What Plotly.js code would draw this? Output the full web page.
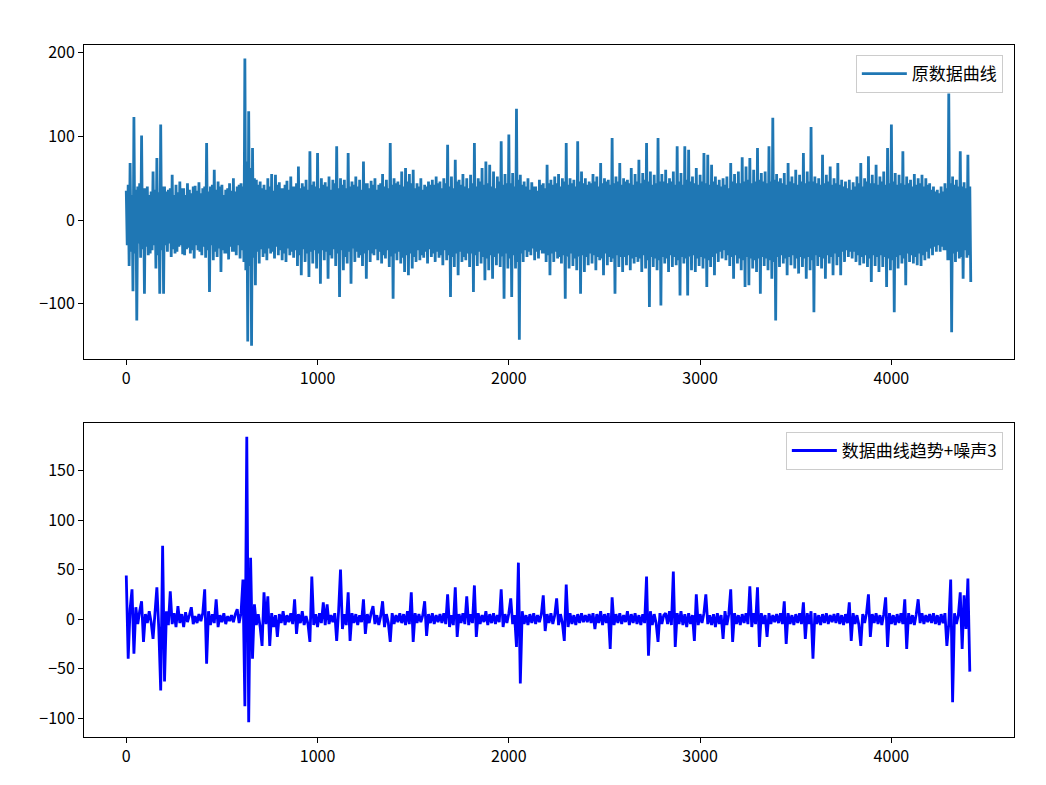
<!DOCTYPE html>
<html>
<head>
<meta charset="utf-8">
<script src="https://cdn.plot.ly/plotly-3.0.1.min.js"></script>
<style>
html,body{margin:0;padding:0;background:#fff;}
#chart{width:1046px;height:785px;}
</style>
</head>
<body>
<div id="chart"></div>
<script>
// spacing (in samples) of the read-off points of each series
const topSampleStep = 5;
const bottomSampleStep = 10;

const seriesTopName = "原数据曲线";
const seriesBottomName = "数据曲线趋势+噪声3";

const originalValues = [
35,-30,42,-55,68,-38,30,-85,123,-40,36,-120,40,-28,44,-45,101,-35,38,-88,38,-32,40,-42,30,-40,34,-36,58,-30,36,-58,74,-42,33,-88,114,-36,40,-88,
40,-30,34,-38,36,-28,38,-44,54,-35,30,-40,42,-38,33,-32,46,-30,38,-41,38,-42,30,-35,44,-33,36,-40,32,-36,40,-46,41,-30,35,-36,45,-38,32,-42,
38,-32,40,-45,92,-36,34,-86,40,-30,42,-48,60,-38,36,-44,46,-34,40,-62,42,-36,30,-40,36,-40,38,-47,44,-32,35,-38,50,-38,34,-42,40,-30,42,-46,
44,-36,40,-50,193,-60,70,-145,130,-55,62,-150,86,-45,50,-78,48,-38,42,-52,46,-35,38,-44,42,-40,36,-48,50,-34,40,-40,55,-38,35,-46,54,-32,42,-42,
45,-36,38,-48,38,-40,42,-50,47,-34,36,-42,52,-38,40,-45,40,-36,44,-55,64,-42,38,-66,44,-35,40,-50,48,-40,36,-68,82,-38,42,-52,46,-36,40,-58,
80,-40,38,-76,50,-36,42,-48,45,-38,40,-70,52,-42,36,-46,48,-35,44,-55,88,-40,38,-92,50,-36,42,-60,48,-44,38,-52,80,-38,40,-76,46,-34,42,-50,
52,-38,40,-45,48,-42,36,-55,70,-40,44,-70,44,-36,38,-50,47,-40,42,-42,50,-35,36,-48,42,-38,44,-52,55,-42,40,-46,48,-36,38,-56,92,-44,42,-94,
50,-40,44,-48,46,-38,42,-52,58,-45,40,-62,62,-42,46,-66,55,-40,44,-58,60,-44,38,-50,44,-36,40,-48,50,-42,36,-45,42,-38,40,-52,46,-35,42,-44,
48,-40,42,-50,52,-38,44,-45,46,-42,38,-54,50,-36,44,-48,90,-42,40,-92,52,-44,38,-56,72,-40,46,-66,48,-38,42,-50,55,-44,40,-48,50,-40,38,-56,
54,-40,44,-86,92,-42,40,-55,50,-38,46,-52,62,-44,42,-72,70,-46,44,-60,66,-42,40,-70,58,-44,38,-54,52,-40,46,-56,94,-44,42,-94,55,-40,44,-58,
102,-46,44,-92,56,-42,40,-58,133,-50,48,-143,54,-40,42,-50,46,-36,40,-44,50,-38,36,-42,45,-34,40,-48,40,-38,35,-46,48,-36,42,-40,44,-40,38,-50,
66,-42,44,-66,48,-40,42,-50,52,-38,44,-46,55,-44,40,-52,50,-42,46,-94,92,-44,42,-58,50,-40,44,-55,48,-46,40,-60,94,-44,46,-88,58,-42,44,-62,
50,-44,42,-54,46,-40,44,-52,55,-42,46,-60,52,-44,40,-48,68,-46,44,-66,50,-40,46,-54,48,-44,42,-50,98,-46,44,-88,52,-42,46,-56,68,-44,42,-62,
50,-44,46,-54,48,-42,44,-60,62,-46,42,-52,55,-44,46,-50,72,-46,44,-62,56,-42,48,-58,92,-48,46,-104,58,-44,42,-56,54,-46,44,-60,98,-48,46,-102,
55,-44,46,-52,60,-46,44,-62,50,-42,46,-56,58,-44,42,-54,88,-48,46,-90,56,-44,42,-52,88,-46,48,-90,84,-44,46,-60,52,-42,44,-62,62,-46,42,-55,
54,-44,46,-58,80,-46,44,-80,78,-48,42,-56,66,-44,46,-66,52,-40,42,-50,48,-38,40,-46,50,-36,42,-48,52,-42,38,-55,68,-44,46,-70,55,-42,44,-52,
58,-46,44,-60,75,-48,46,-80,64,-44,48,-78,74,-46,44,-58,60,-48,46,-62,86,-46,48,-88,56,-44,46,-55,58,-46,44,-60,88,-48,46,-70,122,-50,48,-120,
55,-44,46,-56,50,-42,44,-52,56,-46,42,-66,68,-44,46,-54,52,-42,44,-58,60,-46,42,-64,54,-44,46,-56,80,-46,44,-70,58,-44,46,-60,111,-48,46,-110,
52,-42,44,-55,50,-44,42,-58,78,-46,44,-70,54,-42,46,-52,64,-44,42,-66,50,-40,44,-54,68,-44,42,-66,48,-38,40,-50,46,-36,38,-44,48,-38,36,-46,
45,-38,40,-50,52,-42,44,-54,68,-44,40,-52,50,-42,46,-56,76,-46,44,-74,54,-42,44,-55,66,-44,42,-62,52,-42,46,-56,58,-44,42,-80,86,-46,44,-60,
114,-48,46,-110,56,-44,42,-58,54,-42,44,-52,82,-46,42,-78,52,-40,44,-50,48,-42,40,-52,55,-44,42,-54,50,-40,44,-55,54,-42,40,-48,50,-38,42,-46,
44,-34,36,-42,40,-32,34,-38,36,-30,32,-38,40,-32,34,-36,44,-36,38,-48,151,-48,44,-134,52,-40,42,-50,48,-38,40,-46,82,-44,40,-70,45,-36,38,-45,
78,-42,40,-74
];

const trendNoiseValues = [
44,-40,10,30,-35,12,-5,8,18,-23,5,-4,8,-3,-20,6,32,-10,-72,74,
-63,8,-6,28,-5,6,-8,13,-4,5,-8,7,-3,4,12,-5,3,-4,5,-2,
6,30,-45,8,-6,5,-4,20,-8,4,-3,6,-5,3,-2,4,-3,5,10,-4,
6,40,-88,184,-104,62,-40,15,-6,5,-8,-27,27,-5,23,-27,6,-8,4,-18,
5,-4,8,-6,4,-3,6,-5,20,-15,5,-4,8,-6,3,-5,-23,43,-6,5,
-8,6,-4,17,-6,15,-5,4,-3,6,-22,8,50,-10,5,-6,27,-22,6,-4,
5,-6,4,-3,20,-15,5,-4,6,13,-5,4,-6,3,18,-8,5,-4,-23,6,
-5,4,-3,6,-4,5,-6,8,-5,27,-23,6,-4,5,-3,4,18,-17,5,-4,
6,-5,4,-3,5,-4,6,-5,25,-8,4,-6,32,-18,5,-4,6,-5,23,-6,
5,-4,34,-18,6,-5,4,-3,8,-6,5,-4,6,-5,4,-3,30,-8,5,-4,
6,21,-5,4,-28,57,-65,8,-5,4,-6,5,-4,6,-5,4,-3,5,24,-12,
5,-4,6,-5,4,21,-6,5,-4,-22,35,-8,6,-5,4,-6,5,-4,6,-3,
4,-3,5,-4,6,-10,5,-4,8,-6,5,-4,6,-30,22,-6,5,-4,6,-5,
4,-3,8,-6,5,-4,6,-5,4,-6,5,-4,43,-37,8,-6,5,-4,-23,6,
-5,4,6,-5,8,-6,48,-28,6,-5,8,-6,5,-8,6,-5,4,-22,25,-6,
5,-4,6,25,-5,4,-6,5,-8,6,-5,4,-20,8,-6,5,30,-23,6,-5,
4,-6,5,-4,6,-5,33,-8,6,-5,32,-28,6,-5,4,-18,6,-5,4,-3,
5,-4,6,-5,18,-25,6,-5,4,-6,5,-4,6,-5,17,-20,6,-5,8,-40,
6,-5,4,-6,5,-4,6,-5,4,-3,5,-4,6,-5,4,-6,5,-4,17,-22,
6,-5,4,-6,-27,5,-4,6,25,-18,5,-4,6,-5,4,-6,5,22,-28,6,
-5,4,-6,5,-4,6,-5,20,-30,6,-5,4,-6,5,20,-4,6,-5,4,-3,
5,-4,6,-5,4,-6,5,-4,6,-27,-5,40,-84,6,-5,4,27,-30,24,-10,
41,-53
];

const xTickVals = [0, 1000, 2000, 3000, 4000];
const yTopTickVals = [-100, 0, 100, 200];
const yBottomTickVals = [-100, -50, 0, 50, 100, 150];

const fontFamily = '"Noto Sans CJK SC", "Noto Sans", sans-serif';

const traces = [
  {
    type: 'scatter', mode: 'lines', name: seriesTopName,
    x0: 0, dx: topSampleStep, y: originalValues,
    line: {color: '#1f77b4', width: 2.8, simplify: false},
    xaxis: 'x', yaxis: 'y', legend: 'legend'
  },
  {
    type: 'scatter', mode: 'lines', name: seriesBottomName,
    x0: 0, dx: bottomSampleStep, y: trendNoiseValues,
    line: {color: '#0000ff', width: 2.8, simplify: false},
    xaxis: 'x2', yaxis: 'y2', legend: 'legend2'
  }
];

function axisBase() {
  return {
    showline: true, mirror: true, linecolor: '#000', linewidth: 1,
    ticks: 'outside', ticklen: 5, tickwidth: 1, tickcolor: '#000',
    showgrid: false, zeroline: false,
    tickfont: {family: fontFamily, size: 16, color: '#000'}
  };
}

function legendBase(yPos) {
  return {
    x: 0.988, y: yPos, xanchor: 'right', yanchor: 'top',
    bgcolor: '#fff', bordercolor: '#cccccc', borderwidth: 1,
    itemwidth: 45,
    font: {family: fontFamily, size: 17, color: '#000'}
  };
}

const layout = {
  width: 1046, height: 785,
  paper_bgcolor: '#fff', plot_bgcolor: '#fff',
  margin: {l: 84, r: 32, t: 45, b: 48},
  font: {family: fontFamily, color: '#000'},
  xaxis: Object.assign(axisBase(), {domain: [0, 1], range: [-221, 4641], tickvals: xTickVals, anchor: 'y'}),
  yaxis: Object.assign(axisBase(), {domain: [0.5462, 1], range: [-166, 209], tickvals: yTopTickVals, anchor: 'x'}),
  xaxis2: Object.assign(axisBase(), {domain: [0, 1], range: [-221, 4641], tickvals: xTickVals, anchor: 'y2'}),
  yaxis2: Object.assign(axisBase(), {domain: [0, 0.4538], range: [-119, 198], tickvals: yBottomTickVals, anchor: 'x2'}),
  legend: legendBase(0.9855),
  legend2: legendBase(0.4408),
  showlegend: true
};

Plotly.newPlot('chart', traces, layout, {displayModeBar: false, staticPlot: true});
</script>
</body>
</html>
